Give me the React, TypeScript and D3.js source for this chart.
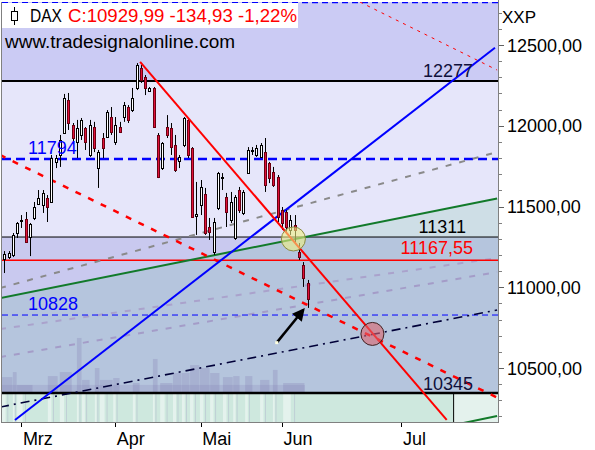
import React from 'react';
import * as d3 from 'd3';

const W = 595;
const H = 450;
const PL = 2, PR = 498, PT = 2, PB = 422;

// OHLC of the DAX daily candles (index 0 = first bar on the left)
const open = [11175, 11187, 11200, 11336, 11410, 11423, 11311, 11429, 11515, 11509, 11553, 11528, 11776, 11819, 11955, 12159, 12005, 11899, 11943, 11986, 11819, 11992, 11738, 11924, 11930, 12054, 11899, 11992, 12054, 12116, 12097, 12234, 12357, 12302, 12215, 12234, 11943, 11738, 11992, 11986, 11881, 11782, 11881, 12036, 11862, 11441, 11509, 11577, 11373, 11218, 11491, 11676, 11559, 11416, 11305, 11602, 11460, 11707, 11845, 11819, 11807, 11837, 11769, 11714, 11683, 11478, 11466, 11355, 11385, 11218, 11138, 11026];
const high = [11224, 11224, 11336, 11404, 11447, 11466, 11398, 11528, 11602, 11602, 11571, 11819, 11819, 11943, 12197, 12203, 12017, 12036, 12048, 11992, 12036, 12024, 11850, 11955, 12097, 12116, 12054, 12024, 12147, 12128, 12234, 12388, 12376, 12314, 12240, 12240, 11955, 11899, 12066, 12017, 11943, 11819, 12054, 12048, 11868, 11652, 11664, 11615, 11429, 11429, 11714, 11707, 11584, 11590, 11571, 11621, 11602, 11868, 11868, 11881, 11893, 11924, 11776, 11745, 11695, 11497, 11478, 11447, 11447, 11274, 11156, 11045];
const low = [11088, 11175, 11187, 11305, 11367, 11274, 11193, 11416, 11509, 11460, 11404, 11528, 11738, 11745, 11955, 11974, 11893, 11800, 11912, 11850, 11807, 11837, 11615, 11800, 11924, 11943, 11881, 11955, 12024, 12017, 12085, 12221, 12265, 12190, 12209, 11992, 11676, 11726, 11924, 11819, 11714, 11738, 11868, 11800, 11429, 11324, 11447, 11324, 11293, 11200, 11478, 11602, 11373, 11398, 11293, 11460, 11447, 11707, 11819, 11807, 11800, 11590, 11645, 11621, 11404, 11355, 11336, 11324, 11280, 11169, 11002, 10872];
const close = [11206, 11212, 11324, 11398, 11416, 11280, 11392, 11497, 11553, 11584, 11497, 11800, 11800, 11912, 12172, 12017, 11924, 11986, 12036, 11899, 12005, 11862, 11837, 11862, 12085, 11961, 12005, 11961, 12128, 12036, 12172, 12376, 12283, 12234, 12234, 11992, 11683, 11893, 11943, 11868, 11726, 11807, 12048, 11819, 11435, 11454, 11621, 11336, 11342, 11404, 11707, 11683, 11466, 11528, 11559, 11478, 11590, 11850, 11850, 11862, 11881, 11633, 11676, 11633, 11435, 11398, 11373, 11416, 11355, 11187, 11057, 10930];

const monthLabels = ['Mrz', 'Apr', 'Mai', 'Jun', 'Jul'];
const monthIndex = [4, 26, 46, 65, 93];

const yTickValues = [10500, 11000, 11500, 12000, 12500];
const yTickLabels = ['10500,00', '11000,00', '11500,00', '12000,00', '12500,00'];

const levelValues = [12763, 12277, 11794, 11311, 11167.55, 10828, 10345];
const levelLabels = ['', '12277', '11794', '11311', '11167,55', '10828', '10345'];

// trend lines: [barIndex, price] end points
const redTrend: [number, number][] = [[31.8, 12395], [103.6, 10179]];
const redChannel: [number, number][] = [[-1.0, 11819], [115.4, 10317]];
const redChannelUpper: [number, number][] = [[83.3, 12766], [115.4, 12345]];
const blueTrend: [number, number][] = [[2.5, 10178], [114.9, 12483]];
const greenTrend: [number, number][] = [[-1.0, 10933], [115.4, 11549]];
const greenLower: [number, number][] = [[-1.0, 9560], [115.4, 10203]];
const grayTrend: [number, number][] = [[-1.0, 10995], [115.4, 11837]];
const navyDashDot: [number, number][] = [[-1.0, 10258], [115.4, 10859]];
const fanLine1: [number, number][] = [[-1.0, 10568], [115.4, 11094]];
const fanLine2: [number, number][] = [[-1.0, 10741], [115.4, 11181]];

const yellowMark: [number, number] = [67.7, 11299];
const redMark: [number, number] = [86.2, 10711];
const arrowFrom: [number, number] = [63.8, 10657];
const arrowTo: [number, number] = [70.0, 10859];

// faint skyline watermark: [fromIndex, toIndex, topPrice]
const skyline: [number, number, number][] = [
  [-0.6, 2.0, 10444], [2.0, 3.0, 10475], [3.0, 6.7, 10395], [10.2, 12.6, 10450],
  [13.0, 15.9, 10475], [17.0, 18.2, 10686], [18.2, 20.1, 10426], [21.2, 22.4, 10500],
  [22.4, 25.5, 10426], [25.5, 27.1, 10438], [30.1, 31.8, 10407], [34.8, 36.0, 10556],
  [36.5, 39.5, 10407], [39.5, 41.6, 10469], [41.6, 43.5, 10469], [43.5, 45.8, 10518],
  [45.8, 48.2, 10500], [48.2, 50.5, 10469], [51.2, 53.6, 10444], [53.6, 55.2, 10450],
  [56.4, 58.2, 10450], [59.9, 62.2, 10426], [62.9, 64.1, 10488], [65.3, 70.4, 10407],
];
const skylineEnd = 105.1;

const FONT = "'Liberation Sans', Arial, sans-serif";

export default function App() {
  const x = d3.scaleLinear().domain([0, 71]).range([4.3, 307.5]);
  const y = d3.scaleLinear().domain([10500, 12500]).range([368, 45]);
  const path = (seg: [number, number][]) =>
    d3.line()(seg.map(([i, v]) => [x(i), y(v)] as [number, number])) || '';
  const extY = (seg: [number, number][], px: number) => {
    const [[i0, v0], [i1, v1]] = seg;
    const x0 = x(i0), y0 = y(v0), x1 = x(i1), y1 = y(v1);
    return y0 + ((px - x0) * (y1 - y0)) / (x1 - x0);
  };

  const minorTicks = d3.range(10200, 12800, 100);
  const levelStyle = [
    { stroke: '#0000ff', w: 1.5, dash: '6,4' },
    { stroke: '#000000', w: 2, dash: '' },
    { stroke: '#0000ff', w: 2.5, dash: '9,5' },
    { stroke: '#000000', w: 1, dash: '' },
    { stroke: '#ff0000', w: 1.5, dash: '' },
    { stroke: '#0000ff', w: 1, dash: '6,4' },
    { stroke: '#000000', w: 2.5, dash: '' },
  ];
  const labelStyle: Record<number, { color: string; anchor: 'start' | 'end'; x: number; dy: number }> = {
    1: { color: '#10103a', anchor: 'end', x: 473, dy: -4 },
    2: { color: '#0000ff', anchor: 'start', x: 28, dy: -5 },
    3: { color: '#000000', anchor: 'end', x: 466, dy: -4 },
    4: { color: '#ff0000', anchor: 'end', x: 473, dy: -6 },
    5: { color: '#0000ff', anchor: 'start', x: 28, dy: -5 },
    6: { color: '#10103a', anchor: 'end', x: 473, dy: -3 },
  };

  const gL = extY(greenTrend, PL);
  const gR = extY(greenTrend, PR);
  const y10345 = y(levelValues[6]);

  return (
    <svg
      width={W}
      height={H}
      style={{ position: 'absolute', left: 0, top: 0, background: '#ffffff' }}
      fontFamily={FONT}
    >
      <defs>
        <clipPath id="plot">
          <rect x={PL} y={PT} width={PR - PL} height={PB - PT} />
        </clipPath>
        <marker id="arrow" viewBox="0 0 10 10" refX="8" refY="5" markerWidth="5" markerHeight="5" orient="auto">
          <path d="M0,0 L10,5 L0,10 z" fill="#000" />
        </marker>
      </defs>

      <g clipPath="url(#plot)">
        {/* backgrounds */}
        <rect x={PL} y={PT} width={PR - PL} height={PB - PT} fill="#e6e6fa" />
        <rect x={PL} y={PT} width={PR - PL} height={y(levelValues[1]) - PT} fill="#cbcbf4" />
        <rect x={PL} y={y(levelValues[3])} width={PR - PL} height={y(levelValues[6]) - y(levelValues[3])} fill="#c9c9ef" />
        <polygon
          points={`${PL},${gL} ${PR},${gR} ${PR},${PB} ${PL},${PB}`}
          fill="rgba(80,180,130,0.16)"
        />
        <rect x={PL} y={y10345} width={PR - PL} height={PB - y10345} fill="rgba(205,240,215,0.55)" />
        {/* skyline watermark */}
        <rect x={PL} y={y(10395)} width={x(70.4) - PL} height={y10345 - y(10395)} fill="rgba(120,110,170,0.18)" />
        {skyline.map(([a, b, v], k) => (
          <g key={'s' + k}>
            <rect x={x(a)} y={y(v)} width={x(b) - x(a) - 0.5} height={y10345 - y(v)} fill="rgba(120,110,170,0.22)" />
            <rect x={x(a)} y={y10345} width={Math.max(1, (x(b) - x(a)) * 0.35)} height={PB - y10345} fill="rgba(255,255,255,0.45)" />
            <rect x={x(a) + (x(b) - x(a)) * 0.5} y={y10345} width={1} height={PB - y10345} fill="rgba(150,140,190,0.25)" />
          </g>
        ))}
        <rect x={x(skylineEnd)} y={y10345} width={PR - x(skylineEnd)} height={PB - y10345} fill="rgba(255,255,255,0.45)" />
        <line x1={x(skylineEnd) + 0.5} x2={x(skylineEnd) + 0.5} y1={y10345} y2={PB} stroke="#000" strokeWidth={1} />

        {/* faint fan lines */}
        <path d={path(fanLine1)} stroke="#a49cc8" strokeWidth={2} strokeDasharray="6,8" fill="none" />
        <path d={path(fanLine2)} stroke="#aaa2cc" strokeWidth={2} strokeDasharray="6,8" fill="none" />

        {/* horizontal levels */}
        {levelValues.map((v, k) => (
          <line
            key={'l' + k}
            x1={PL}
            x2={PR}
            y1={y(v)}
            y2={y(v)}
            stroke={levelStyle[k].stroke}
            strokeWidth={levelStyle[k].w}
            strokeDasharray={levelStyle[k].dash || undefined}
          />
        ))}

        {/* trend lines */}
        <path d={path(grayTrend)} stroke="#8a8a8a" strokeWidth={2} strokeDasharray="6,8" fill="none" />
        <path d={path(navyDashDot)} stroke="#000038" strokeWidth={1.6} strokeDasharray="9,5,2,5" fill="none" />
        <path d={path(greenTrend)} stroke="#127a2a" strokeWidth={2} fill="none" />
        <path d={path(greenLower)} stroke="#127a2a" strokeWidth={2} fill="none" />
        <path d={path(redChannel)} stroke="#ff0000" strokeWidth={2.5} strokeDasharray="6,8" fill="none" />
        <path d={path(redChannelUpper)} stroke="#ff0000" strokeWidth={1} strokeDasharray="3,5" fill="none" />
        <path d={path(blueTrend)} stroke="#0000ff" strokeWidth={2} fill="none" />

        {/* candles */}
        {open.map((o, i) => {
          const c = close[i];
          const px = Math.round(x(i));
          const up = c >= o;
          const top = Math.round(y(Math.max(o, c)));
          const bot = Math.round(y(Math.min(o, c)));
          return (
            <g key={'c' + i}>
              <line x1={px + 0.5} x2={px + 0.5} y1={y(high[i])} y2={y(low[i])} stroke="#000" strokeWidth={1} />
              <rect
                x={px - 0.5}
                y={top + 0.5}
                width={2}
                height={Math.max(1, bot - top)}
                fill={up ? '#ffffff' : '#e0103a'}
                stroke={up ? '#000000' : '#6a0010'}
                strokeWidth={1}
              />
            </g>
          );
        })}

        <path d={path(redTrend)} stroke="#ff0000" strokeWidth={2} fill="none" />

        {/* marks */}
        <circle cx={x(yellowMark[0])} cy={y(yellowMark[1])} r={12} fill="rgba(240,240,130,0.6)" stroke="#8a8a40" strokeWidth={1} />
        <circle cx={x(redMark[0])} cy={y(redMark[1])} r={11.5} fill="rgba(220,100,110,0.6)" stroke="#402020" strokeWidth={1} />
        <line
          x1={x(arrowFrom[0])}
          y1={y(arrowFrom[1])}
          x2={x(arrowTo[0])}
          y2={y(arrowTo[1])}
          stroke="#000"
          strokeWidth={2.5}
          markerEnd="url(#arrow)"
        />
        <rect x={x(arrowFrom[0]) - 1.5} y={y(arrowFrom[1]) - 1.5} width={3} height={3} fill="#ffffe0" />

        {/* level labels */}
        {levelLabels.map((t, k) =>
          t ? (
            <text
              key={'t' + k}
              x={labelStyle[k].x}
              y={y(levelValues[k]) + labelStyle[k].dy}
              textAnchor={labelStyle[k].anchor}
              fontSize={18}
              fill={labelStyle[k].color}
            >
              {t}
            </text>
          ) : null
        )}
      </g>

      {/* header */}
      <rect x={PL} y={3} width={296} height={25} fill="#ffffff" />
      <line x1={14.5} x2={14.5} y1={7} y2={25} stroke="#000" strokeWidth={1} />
      <rect x={11.5} y={11.5} width={6} height={9} fill="#ffffff" stroke="#000" strokeWidth={1} />
      <text x={30} y={22} fontSize={18} fill="#000" textLength={32} lengthAdjust="spacingAndGlyphs">DAX</text>
      <text x={68} y={22} fontSize={18} fill="#ff0000" textLength={229} lengthAdjust="spacingAndGlyphs">C:10929,99 -134,93 -1,22%</text>
      <text x={5} y={48} fontSize={18} fill="#000" textLength={230} lengthAdjust="spacingAndGlyphs">www.tradesignalonline.com</text>

      {/* frame */}
      <line x1={PL - 0.5} x2={PL - 0.5} y1={PT} y2={PB} stroke="#808080" />
      <line x1={PR + 0.5} x2={PR + 0.5} y1={0} y2={PB + 1} stroke="#808080" />
      <line x1={PL - 1} x2={PR + 1} y1={PB + 0.5} y2={PB + 0.5} stroke="#808080" />

      {/* right axis */}
      <text x={502} y={23} fontSize={17} fill="#000">XXP</text>
      {minorTicks.map((v) => (
        <line key={'m' + v} x1={PR + 1} x2={PR + 4} y1={Math.round(y(v)) + 0.5} y2={Math.round(y(v)) + 0.5} stroke="#808080" />
      ))}
      {yTickValues.map((v, k) => (
        <g key={'y' + v}>
          <line x1={PR + 1} x2={PR + 6} y1={Math.round(y(v)) + 0.5} y2={Math.round(y(v)) + 0.5} stroke="#606060" />
          <text x={507} y={y(v) + 6.5} fontSize={18} fill="#000">{yTickLabels[k]}</text>
        </g>
      ))}

      {/* bottom axis */}
      {monthIndex.map((mi, k) => (
        <g key={'x' + k}>
          <line x1={Math.round(x(mi)) + 0.5} x2={Math.round(x(mi)) + 0.5} y1={PB + 1} y2={PB + 5} stroke="#000" />
          <text x={x(mi) + 1.5} y={445} fontSize={18} fill="#000">{monthLabels[k]}</text>
        </g>
      ))}
    </svg>
  );
}
